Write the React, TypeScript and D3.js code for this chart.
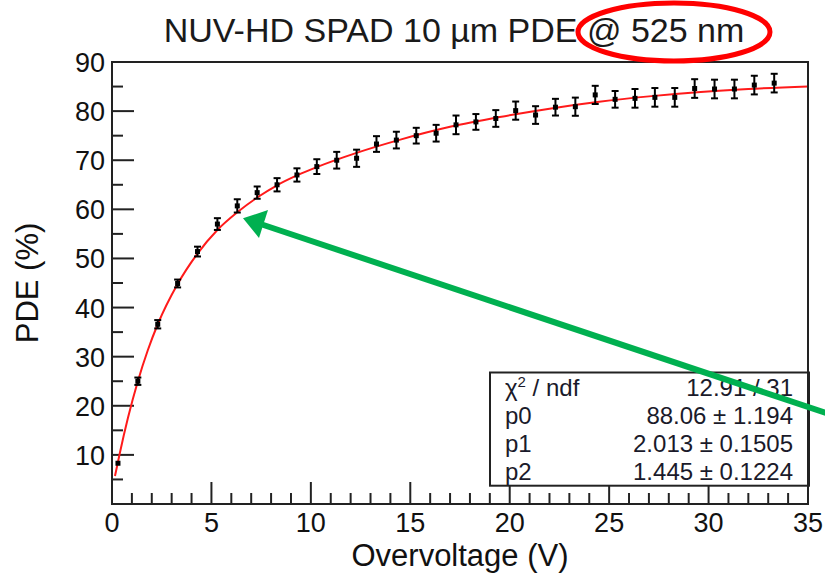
import React from "react";
import * as d3 from "d3";

// measured points (overvoltage in V, PDE in %)
const overvoltage = [0.3, 1.3, 2.3, 3.3, 4.3, 5.3, 6.3, 7.3, 8.3, 9.3, 10.3, 11.3, 12.3, 13.3, 14.3, 15.3, 16.3,
  17.3, 18.3, 19.3, 20.3, 21.3, 22.3, 23.3, 24.3, 25.3, 26.3, 27.3, 28.3, 29.3, 30.3, 31.3, 32.3, 33.3];
const pde = [8.3, 25.0, 36.6, 44.9, 51.4, 57.0, 60.7, 63.4, 65.0, 67.0, 68.7, 70.0, 70.4, 73.3, 74.1, 75.0, 75.5,
  77.2, 77.8, 78.5, 80.1, 79.2, 80.8, 80.9, 83.3, 82.4, 82.6, 82.8, 82.8, 84.6, 84.5, 84.5, 85.3, 85.7];
const pdeErr = [0.3, 0.75, 0.85, 0.8, 1.0, 1.2, 1.35, 1.25, 1.35, 1.35, 1.5, 1.7, 1.75, 1.6, 1.7, 1.6, 1.7,
  1.9, 1.6, 1.7, 1.85, 1.8, 1.7, 1.85, 1.85, 1.7, 1.9, 1.9, 1.9, 1.9, 1.9, 1.9, 1.9, 1.9];

// red fit curve
const fitV = [0.15, 0.4, 0.8, 1.3, 1.8, 2.3, 3.3, 4.3, 5.3, 6.3, 7.3, 8.3, 9.3, 10.3, 12.3, 14.5, 17, 19.5, 22, 24.5, 27, 29.6, 32, 35];
const fitPDE = [5.7, 10.5, 17.5, 25.0, 31.3, 36.6, 44.8, 51.0, 55.8, 59.4, 62.4, 64.9, 66.9, 68.6, 71.5, 74.2, 76.8, 78.8, 80.5, 81.9, 83.0, 83.9, 84.5, 85.0];

const xMajor = [0, 5, 10, 15, 20, 25, 30, 35];
const yMajor = [10, 20, 30, 40, 50, 60, 70, 80, 90];

const statsNames = ["p0", "p1", "p2"];
const statsValues = ["88.06 \u00b1 1.194", "2.013 \u00b1 0.1505", "1.445 \u00b1 0.1224"];
const chi2 = "12.91 / 31";

const W = 825, H = 573;
const font = "'Liberation Sans', Arial, sans-serif";

export default function App() {
  const x = d3.scaleLinear().domain([0, 35]).range([112, 808]);
  const y = d3.scaleLinear().domain([0, 90]).range([504, 62]);

  const xMinor = d3.range(0, 36, 1).filter(v => v % 5 !== 0);
  const yMinor = d3.range(5, 90, 10);

  const fitLine = d3.line<number>()
    .x((d, i) => x(fitV[i]))
    .y(d => y(d))
    .curve(d3.curveMonotoneX);

  const boxTop = 372.5, rowH = 28.3;

  return (
    <svg width={W} height={H} style={{ position: "absolute", left: 0, top: 0, background: "#fff" }}
      fontFamily={font}>
      <rect width={W} height={H} fill="#fff" />

      {/* title */}
      <text x={454} y={42} textAnchor="middle" fontSize={34} fill="#1a1a1a">NUV-HD SPAD 10 µm PDE @ 525 nm</text>

      {/* ticks */}
      <g stroke="#222" strokeWidth={2}>
        {xMajor.map(v => <line key={"xM" + v} x1={x(v)} x2={x(v)} y1={504} y2={482} />)}
        {xMinor.map(v => <line key={"xm" + v} x1={x(v)} x2={x(v)} y1={504} y2={493} />)}
        {yMajor.map(v => <line key={"yM" + v} x1={112} x2={134} y1={y(v)} y2={y(v)} />)}
        {yMinor.map(v => <line key={"ym" + v} x1={112} x2={123} y1={y(v)} y2={y(v)} />)}
      </g>

      {/* tick labels */}
      <g fontSize={27} fill="#111">
        {xMajor.map(v => <text key={"xl" + v} x={x(v)} y={532} textAnchor="middle">{v}</text>)}
        {yMajor.map(v => <text key={"yl" + v} x={105} y={y(v) + 10} textAnchor="end">{v}</text>)}
      </g>

      {/* axis titles */}
      <text x={460} y={566} textAnchor="middle" fontSize={31} fill="#111">Overvoltage (V)</text>
      <text transform={`translate(38,283) rotate(-90)`} textAnchor="middle" fontSize={31} fill="#111">PDE (%)</text>

      {/* fit */}
      <path d={fitLine(fitPDE) || ""} fill="none" stroke="#ff1a1a" strokeWidth={2} />

      {/* points with error bars */}
      <g stroke="#000" strokeWidth={2}>
        {overvoltage.map((v, i) => {
          const cx = x(v), lo = y(pde[i] - pdeErr[i]), hi = y(pde[i] + pdeErr[i]);
          return (
            <g key={"p" + i}>
              <line x1={cx} x2={cx} y1={lo} y2={hi} />
              {pdeErr[i] > 0.5 && <line x1={cx - 3.5} x2={cx + 3.5} y1={lo} y2={lo} />}
              {pdeErr[i] > 0.5 && <line x1={cx - 3.5} x2={cx + 3.5} y1={hi} y2={hi} />}
              <rect x={cx - 2.5} y={y(pde[i]) - 2.5} width={5} height={5} fill="#000" stroke="none" />
            </g>
          );
        })}
      </g>

      {/* stats box */}
      <rect x={490} y={boxTop} width={319} height={rowH * 4} fill="#fff" stroke="#222" strokeWidth={2} />
      <g fontSize={24} fill="#1a1a2a">
        <text x={505} y={boxTop + 23}>χ<tspan dy={-9} fontSize={15}>2</tspan><tspan dy={9}> / ndf</tspan></text>
        <text x={793} y={boxTop + 23} textAnchor="end">{chi2}</text>
        {statsNames.map((n, i) => (
          <g key={n}>
            <text x={505} y={boxTop + 23 + rowH * (i + 1)}>{n}</text>
            <text x={793} y={boxTop + 23 + rowH * (i + 1)} textAnchor="end">{statsValues[i]}</text>
          </g>
        ))}
      </g>

      {/* frame */}
      <rect x={112} y={62} width={696} height={442} fill="none" stroke="#222" strokeWidth={2} />

      {/* annotations */}
      <ellipse cx={674} cy={32} rx={96} ry={29} fill="none" stroke="#ff0000" strokeWidth={5} />
      <line x1={826} y1={413} x2={262} y2={224.5} stroke="#00b050" strokeWidth={6} />
      <polygon points="243,218.3 268,210 259,238" fill="#00b050" />
    </svg>
  );
}
